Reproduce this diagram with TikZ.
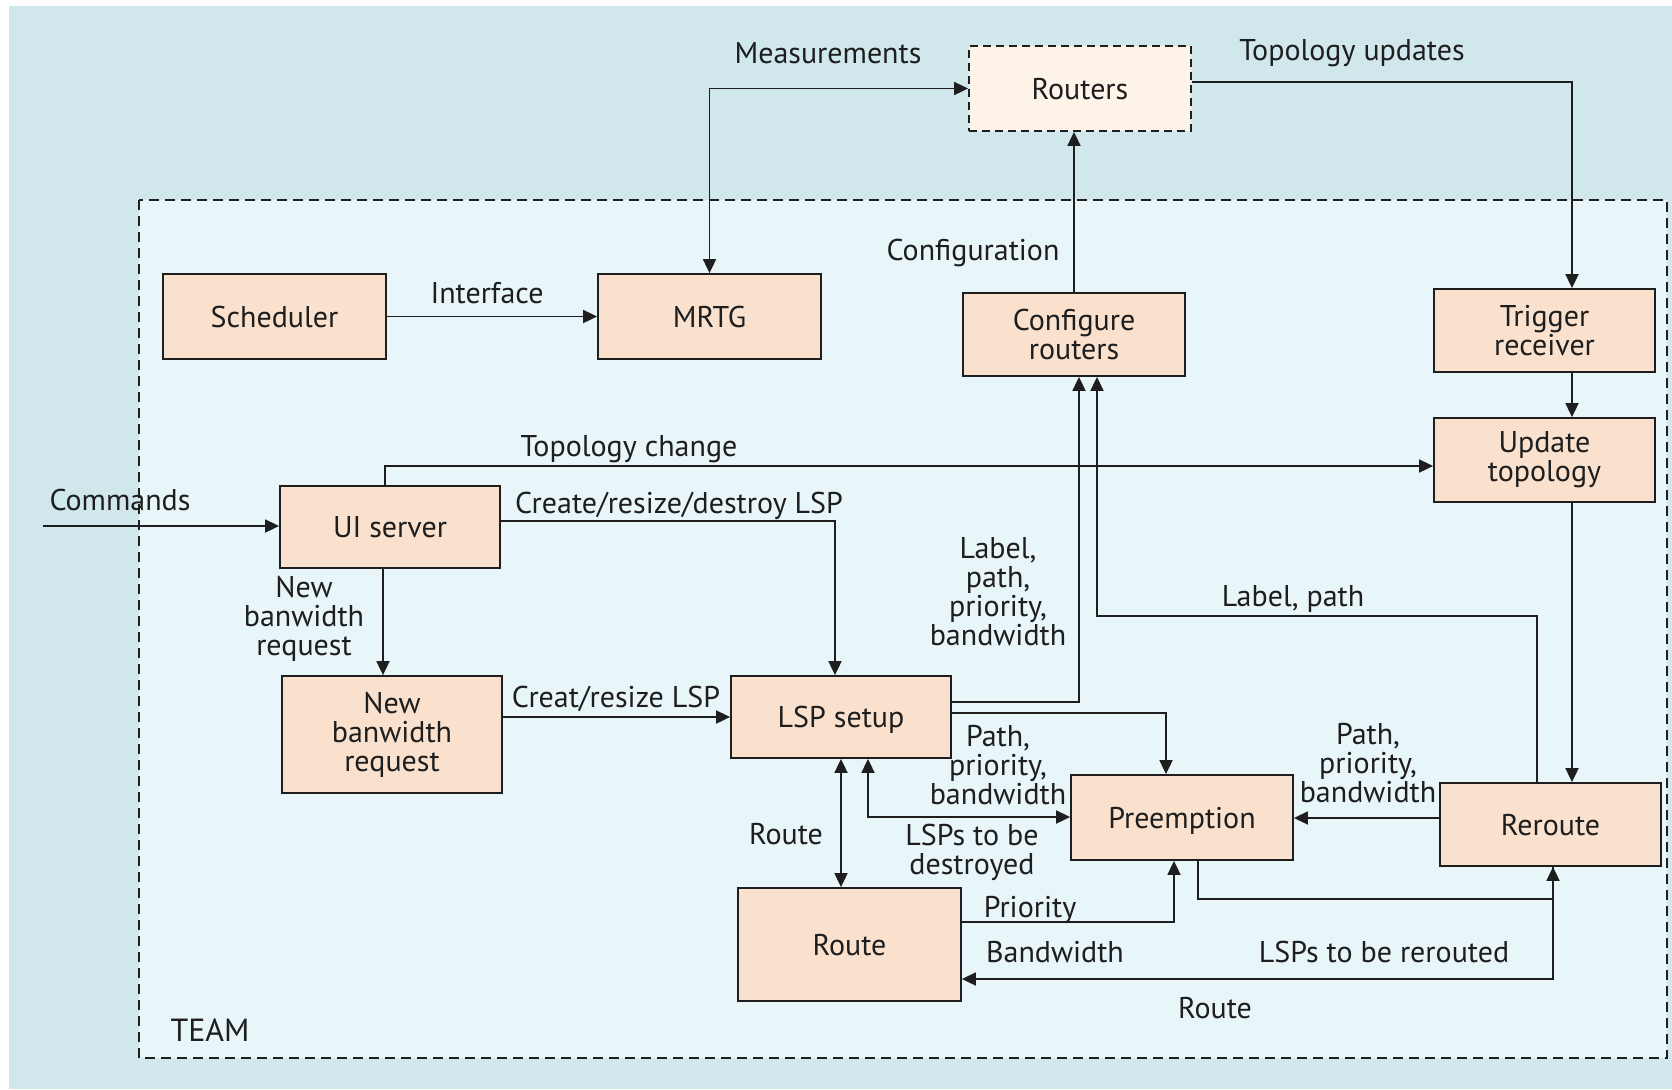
\documentclass[tikz,border=0pt]{standalone}
\usepackage{fontspec}
\setmainfont{PT Sans}
\usetikzlibrary{arrows.meta,calc}
\definecolor{outerbg}{RGB}{208,232,236}
\definecolor{innerbg}{RGB}{232,245,249}
\definecolor{boxfill}{RGB}{249,225,206}
\definecolor{extfill}{RGB}{253,243,233}
\definecolor{ink}{RGB}{30,30,30}
\begin{document}
\begin{tikzpicture}[x=0.5pt,y=-0.5pt,
  every node/.style={font=\fontsize{15}{14.5}\selectfont, text=ink},
  block/.style={draw=ink, line width=0.9pt, fill=boxfill, align=center, inner sep=0pt},
  extblock/.style={block, fill=extfill, dash pattern=on 4pt off 2.5pt},
  lbl/.style={align=center, inner sep=0pt},
  oneline/.style={text depth=0pt},
  tip/.tip={Triangle[length=7pt,width=6.5pt]},
  conn/.style={draw=ink, line width=0.9pt, -tip},
  both/.style={draw=ink, line width=0.9pt, tip-tip}]

% page and backgrounds
\useasboundingbox (0,0) rectangle (1672,1089);
\fill[white] (0,0) rectangle (1672,1089);
\fill[outerbg] (9,6) rectangle (1672,1089);
\draw[ink, line width=0.8pt, dash pattern=on 5pt off 3pt, fill=innerbg] (139,200) rectangle (1667,1058);
\node[lbl, oneline, font=\fontsize{16}{16}\selectfont] (team) at (210,1030) {TEAM};

% blocks
\node[extblock, oneline, minimum width=111pt, minimum height=42.5pt] (routers) at (1080,88.5) {Routers};
\node[block, oneline, minimum width=111.5pt, minimum height=42.5pt] (sched) at (274.5,316.5) {Scheduler};
\node[block, oneline, minimum width=111.5pt, minimum height=42.5pt] (mrtg) at (709.5,316.5) {MRTG};
\node[block, minimum width=111pt, minimum height=41.5pt] (conf) at (1074,334.5) {Configure\\routers};
\node[block, minimum width=110.5pt, minimum height=41.5pt] (trig) at (1544.5,330.5) {Trigger\\receiver};
\node[block, minimum width=110.5pt, minimum height=42pt] (upd) at (1544.5,460) {Update\\topology};
\node[block, oneline, minimum width=110pt, minimum height=41pt] (ui) at (390,527) {UI server};
\node[block, minimum width=110pt, minimum height=58.5pt] (nbr) at (392,734.5) {New\\banwidth\\request};
\node[block, oneline, minimum width=110pt, minimum height=41pt] (lsp) at (841,717) {LSP setup};
\node[block, oneline, minimum width=111pt, minimum height=42.5pt] (pre) at (1182,817.5) {Preemption};
\node[block, oneline, minimum width=110.5pt, minimum height=41.5pt] (rer) at (1550.5,824.5) {Reroute};
\node[block, oneline, minimum width=111.5pt, minimum height=56.5pt] (route) at (849.5,944.5) {Route};

% bend points of the connectors
\coordinate (cmdIn) at (43,526);
\coordinate (tuCorner) at (1572,82);
\coordinate (tcCorner) at (385,466);
\coordinate (crdCorner) at (835,521);
\coordinate (nbX) at (383,0);
\coordinate (cfgA) at (1079,702);
\coordinate (lpA) at (1537,616);
\coordinate (lpB) at (1097,616);
\coordinate (ppA) at (1166,713);
\coordinate (dsA) at (868,817);
\coordinate (rpY) at (0,818);
\coordinate (prA) at (1198,899);
\coordinate (prB) at (1553,899);
\coordinate (rtA) at (1174,922);
\coordinate (rrA) at (1553,979);

% connectors
\draw[both] (mrtg.north) |- (routers.west);
\draw[conn] (routers.east |- tuCorner) -| (trig.north -| tuCorner);
\draw[conn] (conf.north) -- (conf.north |- routers.south);
\draw[conn] (sched.east) -- (mrtg.west);
\draw[conn] (trig.south -| tuCorner) -- (upd.north -| tuCorner);
\draw[conn] (upd.south -| tuCorner) -- (rer.north -| tuCorner);
\draw[conn] (cmdIn) -- (cmdIn -| ui.west);
\draw[conn] (ui.north -| tcCorner) |- (upd.west |- tcCorner);
\draw[conn] (ui.east |- crdCorner) -| (lsp.north -| crdCorner);
\draw[conn] (ui.south -| nbX) -- (nbr.north -| nbX);
\draw[conn] (nbr.east |- lsp.west) -- (lsp.west);
\draw[conn] (lsp.east |- cfgA) -| (conf.south -| cfgA);
\draw[conn] (rer.north -| lpA) -- (lpA) -- (lpB) -- (conf.south -| lpB);
\draw[conn] (lsp.east |- ppA) -| (pre.north -| ppA);
\draw[both] (lsp.south -| dsA) |- (pre.west |- dsA);
\draw[both] (lsp.south) -- (lsp.south |- route.north);
\draw[conn] (rer.west |- rpY) -- (pre.east |- rpY);
\draw[conn] (pre.south -| prA) -- (prA) -- (prB) -- (rer.south -| prB);
\draw[conn] (route.east |- rtA) -| (pre.south -| rtA);
\draw[conn] (rer.south -| rrA) -- (rrA) -- (route.east |- rrA);

% connector labels
\node[lbl, oneline] (lMeas) at (828,53) {Measurements};
\node[lbl, oneline] (lTopUpd) at (1352,50) {Topology updates};
\node[lbl, oneline] (lConfig) at (973,250) {Configuration};
\node[lbl, oneline] (lIface) at (487,293) {Interface};
\node[lbl, oneline] (lTopChg) at (629,446) {Topology change};
\node[lbl, oneline] (lCmd) at (120,500) {Commands};
\node[lbl, oneline] (lCrd) at (679,503) {Create/resize/destroy LSP};
\node[lbl] (lNbr) at (304,619) {New\\banwidth\\request};
\node[lbl, oneline] (lCr) at (616,697) {Creat/resize LSP};
\node[lbl] (lLppb) at (998,592) {Label,\\path,\\priority,\\bandwidth};
\node[lbl, oneline] (lLp) at (1293,596) {Label, path};
\node[lbl] (lPpbL) at (998,765) {Path,\\priority,\\bandwidth};
\node[lbl] (lPpbR) at (1368,763) {Path,\\priority,\\bandwidth};
\node[lbl, oneline] (lRoute1) at (786,834) {Route};
\node[lbl] (lDestr) at (972,852) {LSPs to be\\destroyed};
\node[lbl, oneline] (lPrio) at (1030,907) {Priority};
\node[lbl, oneline] (lBw) at (1055,952) {Bandwidth};
\node[lbl, oneline] (lRer) at (1384,952) {LSPs to be rerouted};
\node[lbl, oneline] (lRoute2) at (1215,1008) {Route};
\end{tikzpicture}
\end{document}
